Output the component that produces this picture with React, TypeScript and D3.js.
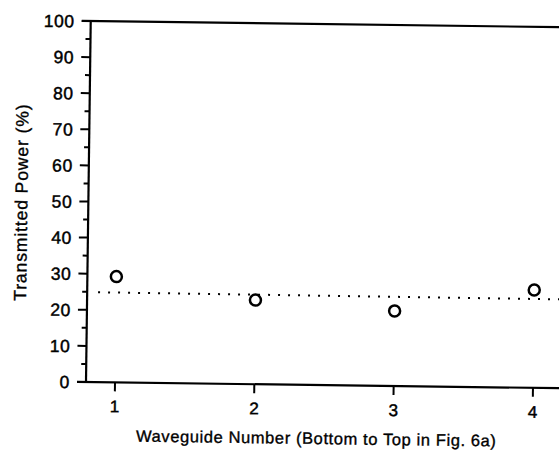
import React from "react";
import * as d3 from "d3";

const waveguides = [1, 2, 3, 4];
const transmitted = [29.3, 23.3, 20.8, 27.1];
const fitLineX = [0.87, 4.3];
const fitLineY = [24.9, 24.6];
const yMajorTicks = [0, 10, 20, 30, 40, 50, 60, 70, 80, 90, 100];
const yMinorTicks = [5, 15, 25, 35, 45, 55, 65, 75, 85, 95];
const xTicks = [1, 2, 3, 4];

const W = 559;
const H = 450;

export default function App() {
  const x = d3.scaleLinear().domain([1, 4]).range([115, 533]);
  const y = d3.scaleLinear().domain([0, 100]).range([382, 21]);
  const x0 = 86;
  const font = "'Liberation Sans', Arial, Helvetica, sans-serif";
  const line = d3
    .line<[number, number]>()
    .x((d) => x(d[0]))
    .y((d) => y(d[1]));
  const fitPts: [number, number][] = fitLineX.map((v, i) => [v, fitLineY[i]]);
  const textStroke = { stroke: "#000", strokeWidth: 0.45 };

  return (
    <svg
      width={W}
      height={H}
      style={{ position: "absolute", left: 0, top: 0, background: "#fff" }}
    >
      <g transform={`rotate(0.75, ${x0}, ${y(0)})`}>
        <line x1={x0} x2={x0} y1={y(0)} y2={y(100)} stroke="#000" strokeWidth={2.2} />
        <line x1={x0 - 9} x2={W + 20} y1={y(100)} y2={y(100)} stroke="#000" strokeWidth={2.2} />
        <line x1={x0 - 9} x2={W + 20} y1={y(0)} y2={y(0)} stroke="#000" strokeWidth={2.2} />
        {yMajorTicks.map((t) => (
          <g key={"ym" + t}>
            <line x1={x0 - 9} x2={x0} y1={y(t)} y2={y(t)} stroke="#000" strokeWidth={2} />
            <text
              x={x0 - 16}
              y={y(t)}
              dy="0.37em"
              textAnchor="end"
              fontFamily={font}
              fontSize={17.5}
              letterSpacing={0.6}
              fill="#000"
              {...textStroke}
            >
              {t}
            </text>
          </g>
        ))}
        {yMinorTicks.map((t) => (
          <line key={"yn" + t} x1={x0 - 5} x2={x0} y1={y(t)} y2={y(t)} stroke="#000" strokeWidth={2} />
        ))}
        {xTicks.map((t) => (
          <g key={"x" + t}>
            <line x1={x(t)} x2={x(t)} y1={y(0)} y2={y(0) + 9} stroke="#000" strokeWidth={2} />
            <text
              x={x(t)}
              y={y(0) + 30}
              textAnchor="middle"
              fontFamily={font}
              fontSize={17}
              fill="#000"
              {...textStroke}
            >
              {t}
            </text>
          </g>
        ))}
        <path
          d={line(fitPts) || ""}
          fill="none"
          stroke="#000"
          strokeWidth={2}
          strokeDasharray="2 8"
        />
        {waveguides.map((w, i) => (
          <circle
            key={"p" + w}
            cx={x(w)}
            cy={y(transmitted[i])}
            r={5.5}
            fill="#fff"
            stroke="#000"
            strokeWidth={2.5}
          />
        ))}
        <text
          x={317}
          y={y(0) + 59}
          textAnchor="middle"
          fontFamily={font}
          fontSize={16.5}
          letterSpacing={0.6}
          fill="#000"
          {...{ stroke: "#000", strokeWidth: 0.35 }}
        >
          Waveguide Number (Bottom to Top in Fig. 6a)
        </text>
        <text
          transform={`translate(25, 203) rotate(-90)`}
          textAnchor="middle"
          fontFamily={font}
          fontSize={17.5}
          letterSpacing={0.9}
          fill="#000"
          {...{ stroke: "#000", strokeWidth: 0.35 }}
        >
          Transmitted Power (%)
        </text>
      </g>
    </svg>
  );
}
